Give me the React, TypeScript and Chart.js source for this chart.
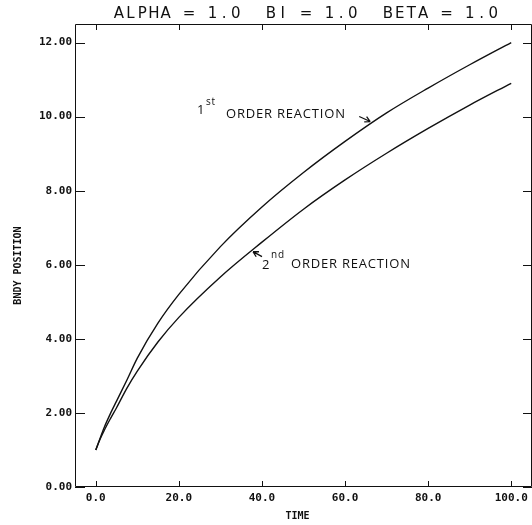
import React, { useEffect, useRef } from "react";
import { Chart, registerables } from "chart.js";

Chart.register(...registerables);

const times = [0, 1, 2, 3.6, 5, 7.5, 10, 15, 20, 30, 40, 50, 60, 70, 80, 90, 100];
const firstOrder = [1.0, 1.3, 1.6, 2.0, 2.32, 2.89, 3.48, 4.43, 5.2, 6.49, 7.56, 8.49, 9.33, 10.1, 10.77, 11.4, 12.0];
const secondOrder = [1.0, 1.28, 1.52, 1.86, 2.14, 2.67, 3.13, 3.92, 4.58, 5.67, 6.61, 7.5, 8.29, 9.01, 9.68, 10.31, 10.9];
const xTicks = [0, 20, 40, 60, 80, 100];
const xTickLabels = ["0.0", "20.0", "40.0", "60.0", "80.0", "100.0"];
const yTicks = [0, 2, 4, 6, 8, 10, 12];
const yTickLabels = ["0.00", "2.00", "4.00", "6.00", "8.00", "10.00", "12.00"];
const titleText = "ALPHA = 1.0  BI = 1.0  BETA = 1.0";
const xTitle = "TIME";
const yTitle = "BNDY POSITION";

const decorPlugin = {
  id: "decor",
  afterDraw(chart: any) {
    const ctx = chart.ctx as CanvasRenderingContext2D;
    const a = chart.chartArea;
    const xs = chart.scales.x;
    const ys = chart.scales.y;
    ctx.save();
    ctx.strokeStyle = "#111";
    ctx.fillStyle = "#111";
    ctx.lineWidth = 1;
    // frame
    ctx.beginPath();
    ctx.rect(a.left + 0.5, a.top + 0.5, a.right - a.left - 1, a.bottom - a.top - 1);
    ctx.stroke();
    // x ticks
    xTicks.forEach((v) => {
      const px = Math.round(xs.getPixelForValue(v)) + 0.5;
      ctx.beginPath();
      ctx.moveTo(px, a.bottom);
      ctx.lineTo(px, a.bottom - 6);
      ctx.moveTo(px, a.top);
      ctx.lineTo(px, a.top + 6);
      ctx.stroke();
    });
    yTicks.forEach((v) => {
      const py = Math.round(ys.getPixelForValue(v)) + 0.5;
      ctx.beginPath();
      ctx.moveTo(a.left, py);
      ctx.lineTo(a.left + 10, py);
      ctx.moveTo(a.right, py);
      ctx.lineTo(a.right - 9, py);
      ctx.stroke();
    });
    // tick labels
    ctx.font = "bold 11px 'DejaVu Sans Mono'";
    ctx.textAlign = "right";
    ctx.textBaseline = "middle";
    yTicks.forEach((v, i) => {
      ctx.fillText(yTickLabels[i], a.left - 3, ys.getPixelForValue(v));
    });
    ctx.textAlign = "center";
    ctx.textBaseline = "top";
    xTicks.forEach((v, i) => {
      ctx.fillText(xTickLabels[i], xs.getPixelForValue(v), a.bottom + 6);
    });
    // axis titles
    ctx.font = "bold 10px 'DejaVu Sans Mono'";
    ctx.textBaseline = "top";
    ctx.fillText(xTitle, (a.left + a.right) / 2 - 6, a.bottom + 24);
    ctx.save();
    ctx.translate(18, (a.top + a.bottom) / 2 + 10);
    ctx.rotate(-Math.PI / 2);
    ctx.textBaseline = "middle";
    ctx.fillText(yTitle, 0, 0);
    ctx.restore();
    // title, fixed pitch
    ctx.font = "15px 'DejaVu Sans'";
    ctx.textAlign = "center";
    ctx.textBaseline = "alphabetic";
    const pitch = 11.7;
    const startX = 114;
    for (let i = 0; i < titleText.length; i++) {
      const c = titleText[i];
      if (c !== " ") ctx.fillText(c, startX + i * pitch + pitch / 2 - 1, 18);
    }
    // annotations
    const annFont = "13px 'Open Sans'";
    const supFont = "10px 'Open Sans'";
    const drawArrow = (x1: number, y1: number, x2: number, y2: number) => {
      ctx.beginPath();
      ctx.moveTo(x1, y1);
      ctx.lineTo(x2, y2);
      const ang = Math.atan2(y2 - y1, x2 - x1);
      const hl = 6;
      ctx.moveTo(x2, y2);
      ctx.lineTo(x2 - hl * Math.cos(ang - 0.5), y2 - hl * Math.sin(ang - 0.5));
      ctx.moveTo(x2, y2);
      ctx.lineTo(x2 - hl * Math.cos(ang + 0.5), y2 - hl * Math.sin(ang + 0.5));
      ctx.lineWidth = 1.3;
      ctx.stroke();
    };
    ctx.textAlign = "left";
    ctx.textBaseline = "alphabetic";
    (ctx as any).letterSpacing = "0.8px";
    // 1st order
    ctx.font = annFont;
    ctx.fillText("1", 197, 114);
    ctx.font = supFont;
    ctx.fillText("st", 206, 105);
    ctx.font = annFont;
    ctx.fillText("ORDER REACTION", 226, 118);
    const t1x = xs.getPixelForValue(66.3);
    const t1y = ys.getPixelForValue(9.84);
    drawArrow(t1x - 12, t1y - 6, t1x - 1, t1y - 1);
    // 2nd order
    ctx.font = annFont;
    ctx.fillText("2", 262, 269);
    ctx.font = supFont;
    ctx.fillText("nd", 271, 258);
    ctx.font = annFont;
    ctx.fillText("ORDER REACTION", 291, 268);
    const t2x = xs.getPixelForValue(37.6);
    const t2y = ys.getPixelForValue(6.38);
    drawArrow(t2x + 10, t2y + 6, t2x + 1, t2y + 1);
    ctx.restore();
  },
};

export default function App() {
  const ref = useRef<HTMLCanvasElement>(null);
  useEffect(() => {
    if (!ref.current) return;
    const chart = new Chart(ref.current, {
      type: "line",
      data: {
        datasets: [
          {
            label: "1st order reaction",
            data: times.map((t, i) => ({ x: t, y: firstOrder[i] })),
            borderColor: "#111",
            borderWidth: 1.4,
            pointRadius: 0,
            cubicInterpolationMode: "monotone",
            fill: false,
          },
          {
            label: "2nd order reaction",
            data: times.map((t, i) => ({ x: t, y: secondOrder[i] })),
            borderColor: "#111",
            borderWidth: 1.4,
            pointRadius: 0,
            cubicInterpolationMode: "monotone",
            fill: false,
          },
        ],
      },
      options: {
        responsive: false,
        animation: false,
        layout: { padding: { left: 75, top: 24, right: 0, bottom: 38 } },
        plugins: { legend: { display: false }, tooltip: { enabled: false }, title: { display: false } },
        scales: {
          x: { type: "linear", min: -5, max: 105, display: false },
          y: { type: "linear", min: 0, max: 12.5, display: false },
        },
      },
      plugins: [decorPlugin],
    });
    return () => chart.destroy();
  }, []);
  return (
    <div style={{ position: "fixed", left: 0, top: 0, width: 532, height: 525, background: "#fff" }}>
      <canvas ref={ref} width={532} height={525} style={{ display: "block" }} />
    </div>
  );
}
